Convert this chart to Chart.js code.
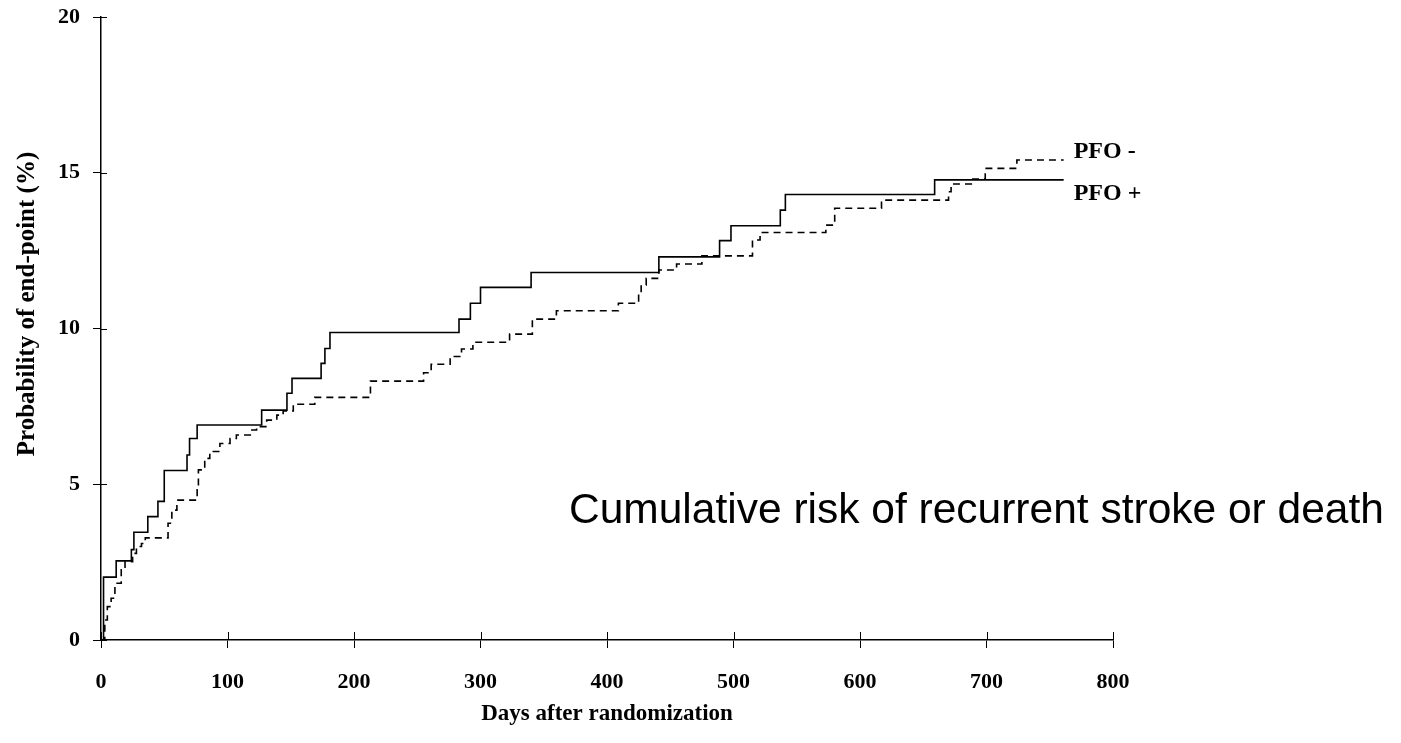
<!DOCTYPE html>
<html>
<head>
<meta charset="utf-8">
<script src="https://cdn.jsdelivr.net/npm/chart.js@4.4.1/dist/chart.umd.min.js"></script>
<style>
body{margin:0;background:#fff}
</style>
</head>
<body>
<canvas id="chart" width="1401" height="743"></canvas>
<script>

// PFO + (solid), step points
const posDays = [0, 2, 12, 24, 26, 37, 45, 50, 68, 70, 76, 127, 147, 151, 174, 177, 181, 283, 292, 300, 340, 441, 489, 498, 537, 541, 659, 761]
const posRisk = [0, 2.02, 2.54, 2.9, 3.46, 3.96, 4.45, 5.44, 5.94, 6.47, 6.9, 7.38, 7.92, 8.4, 8.88, 9.36, 9.87, 10.3, 10.81, 11.32, 11.8, 12.3, 12.82, 13.3, 13.8, 14.3, 14.77, 14.77]

// PFO - (dashed)
const negDays = [0, 3, 5, 8, 11, 16, 19, 25, 28, 32, 35, 53, 56, 60, 76, 77, 82, 86, 94, 102, 107, 118, 123, 131, 139, 144, 152, 169, 213, 255, 261, 276, 285, 294, 323, 341, 360, 409, 425, 427, 431, 441, 455, 475, 515, 521, 573, 580, 617, 670, 672, 688, 699, 724, 761]
const negRisk = [0, 0.64, 1.07, 1.34, 1.82, 2.25, 2.51, 2.78, 3.0, 3.1, 3.28, 3.75, 4.17, 4.49, 4.82, 5.46, 5.83, 6.05, 6.31, 6.47, 6.58, 6.74, 6.85, 7.06, 7.22, 7.35, 7.57, 7.79, 8.31, 8.58, 8.85, 9.1, 9.34, 9.56, 9.82, 10.3, 10.57, 10.81, 11.13, 11.4, 11.61, 11.88, 12.07, 12.33, 12.84, 13.08, 13.32, 13.86, 14.12, 14.39, 14.64, 14.8, 15.14, 15.41, 15.41]

const xTicks = [0, 100, 200, 300, 400, 500, 600, 700, 800]
const yTicks = [0, 5, 10, 15, 20]

const seriesNames = ["PFO +", "PFO -"]
const yTitle = "Probability of end-point (%)"
const xTitle = "Days after randomization"
const caption = "Cumulative risk of recurrent stroke or death"

const serif = "'Liberation Serif', 'Times New Roman', serif"

const toPoints = (days, vals) => days.map((d, i) => ({x: d, y: vals[i]}))


// labels, inner tick halves and caption
const extras = {
id: "extras",
afterDraw(c){
const ctx = c.ctx
const xs = c.scales.x
const ys = c.scales.y
ctx.save()
ctx.strokeStyle = "#000"
ctx.lineWidth = 1
ctx.beginPath()
yTicks.forEach(v => {
const y = Math.round(ys.getPixelForValue(v)) + 0.5
ctx.moveTo(xs.left, y)
ctx.lineTo(xs.left + 6, y)
})
xTicks.forEach(v => {
const x = Math.round(xs.getPixelForValue(v)) + 0.5
ctx.moveTo(x, ys.bottom)
ctx.lineTo(x, ys.bottom - 8)
})
ctx.stroke()

ctx.fillStyle = "#000"
ctx.font = "bold 25px " + serif
ctx.textAlign = "center"
ctx.textBaseline = "middle"
ctx.translate(28, 304)
ctx.rotate(-Math.PI / 2)
ctx.fillText(yTitle, 0, 0)
ctx.setTransform(1, 0, 0, 1, 0, 0)

// series names at line ends
const lx = xs.getPixelForValue(posDays[posDays.length - 1]) + 10
ctx.font = "bold 24px " + serif
ctx.textAlign = "left"
ctx.fillText(seriesNames[1], lx, ys.getPixelForValue(negRisk[negRisk.length - 1]) - 8)
ctx.fillText(seriesNames[0], lx, ys.getPixelForValue(posRisk[posRisk.length - 1]) + 14)

ctx.font = "42.5px 'Liberation Sans', Arial, sans-serif"
ctx.fillText(caption, 569, 511)
ctx.restore()
}
}


new Chart(document.getElementById("chart"), {

type: "line",

data: {
datasets: [{
label: seriesNames[0],
data: toPoints(posDays, posRisk),
borderColor: "#000",
borderWidth: 1.6,
stepped: "before",
pointRadius: 0,
fill: false
}, {
label: seriesNames[1],
data: toPoints(negDays, negRisk),
borderColor: "#000",
borderWidth: 1.6,
borderDash: [7, 5],
stepped: "before",
pointRadius: 0,
fill: false
}]
},

options: {
responsive: false,
animation: false,
layout: {padding: {top: 17, right: 288, bottom: 0, left: 0}},
plugins: {
legend: {display: false},
tooltip: {enabled: false}
},
scales: {
x: {
type: "linear",
min: 0,
max: 800,
afterFit: s => { s.height = 103; s.paddingLeft = 0; s.paddingRight = 0 },
afterBuildTicks: s => { s.ticks = xTicks.map(v => ({value: v})) },
grid: {drawOnChartArea: false, tickLength: 8, color: "#000"},
border: {color: "#000", width: 1.5},
ticks: {color: "#000", padding: 21, maxRotation: 0, font: {family: serif, size: 22, weight: "bold"}},
title: {display: true, text: xTitle, color: "#000", padding: {top: 4, bottom: 15}, font: {family: serif, size: 23, weight: "bold"}}
},
y: {
min: 0,
max: 20,
afterFit: s => { s.width = 101; s.paddingTop = 0; s.paddingBottom = 0 },
afterBuildTicks: s => { s.ticks = yTicks.map(v => ({value: v})) },
grid: {drawOnChartArea: false, tickLength: 8, color: "#000"},
border: {color: "#000", width: 1.5},
ticks: {color: "#000", padding: 13, font: {family: serif, size: 22, weight: "bold"}}
}
}
},

plugins: [extras]

})

</script>
</body>
</html>
